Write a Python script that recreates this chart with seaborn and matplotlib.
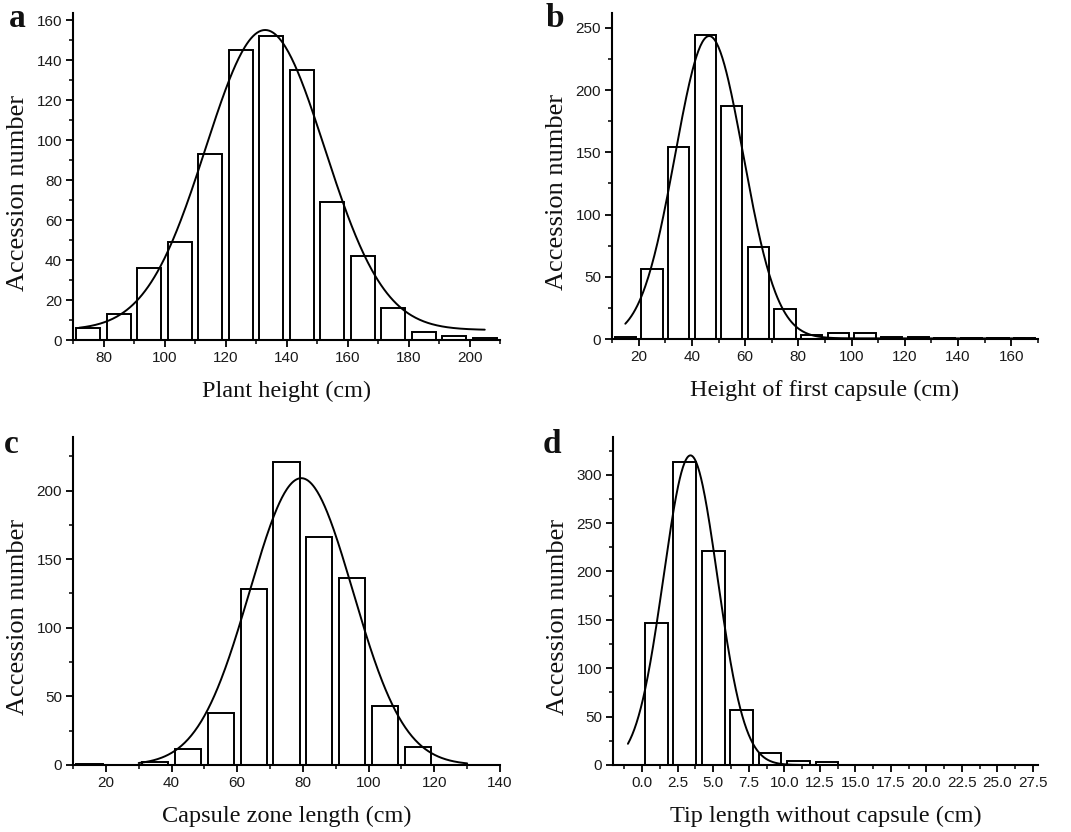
import numpy as np
import pandas as pd
import matplotlib
matplotlib.use("Agg")
import matplotlib.pyplot as plt
from matplotlib.ticker import MultipleLocator
import seaborn as sns

sns.set_theme(style="ticks")
plt.rcParams["font.family"] = ["Liberation Sans", "DejaVu Sans"]

# ---------------- data ----------------
# Panel a: plant height (bins of 10 cm)
a_edges = [70, 80, 90, 100, 110, 120, 130, 140, 150, 160, 170, 180, 190, 200, 210]
a_counts = [6, 13, 36, 49, 93, 145, 152, 135, 69, 42, 16, 4, 2, 1]
a_fit = dict(y0=5, H=150, xc=133, s=19.5, x0=72, x1=205)

# Panel b: height of first capsule
b_edges = [10, 20, 30, 40, 50, 60, 70, 80, 90, 100, 110, 120, 130, 140, 150, 160, 170]
b_counts = [2, 56, 154, 244, 187, 74, 24, 3, 5, 5, 2, 2, 1, 1, 1, 1]
b_fit = dict(y0=0.5, H=243, xc=46.5, s=12.8, x0=15, x1=165)

# Panel c: capsule zone length
c_edges = [10, 20, 30, 40, 50, 60, 70, 80, 90, 100, 110, 120]
c_counts = [1, 0, 2, 12, 38, 128, 221, 166, 136, 43, 13]
c_fit = dict(y0=0, H=209, xc=79.5, s=15.7, x0=30, x1=130)

# Panel d: tip length without capsule (bins of 2 cm)
d_edges = [0, 2, 4, 6, 8, 10, 12, 14, 16, 18, 20, 22, 24, 26, 28]
d_counts = [147, 313, 221, 57, 12, 4, 3, 0, 0, 0, 0, 0, 0, 0]
d_fit = dict(y0=0, H=320, xc=3.4, s=1.9, x0=-1.0, x1=14)

panels = [
    dict(letter="a", edges=a_edges, counts=a_counts, fit=a_fit,
         xlabel="Plant height (cm)", xlim=(70, 210), xmin=10,
         xticks=np.arange(80, 201, 20), ylim=(0, 163.5), ymaj=20, ymin=10,
         rect=(73, 13, 500, 340), fmt="{:.0f}"),
    dict(letter="b", edges=b_edges, counts=b_counts, fit=b_fit,
         xlabel="Height of first capsule (cm)", xlim=(10, 170), xmin=10,
         xticks=np.arange(20, 161, 20), ylim=(0, 262), ymaj=50, ymin=25,
         rect=(612, 13, 1038, 339), fmt="{:.0f}"),
    dict(letter="c", edges=c_edges, counts=c_counts, fit=c_fit,
         xlabel="Capsule zone length (cm)", xlim=(10, 140), xmin=10,
         xticks=np.arange(20, 141, 20), ylim=(0, 239), ymaj=50, ymin=25,
         rect=(73, 437, 500, 765), fmt="{:.0f}"),
    dict(letter="d", edges=d_edges, counts=d_counts, fit=d_fit,
         xlabel="Tip length without capsule (cm)", xlim=(-2.05, 27.85), xmin=1.25,
         xticks=np.arange(0, 27.6, 2.5), ylim=(0, 339), ymaj=50, ymin=25,
         rect=(613, 437, 1038, 765), fmt="{:.1f}"),
]
letter_pos = {"a": (9, 27), "b": (546, 27), "c": (4, 453), "d": (543, 453)}

W, H = 1071, 832
fig = plt.figure(figsize=(W / 100, H / 100), dpi=100)
fig.patch.set_facecolor("white")

serif = ["Liberation Serif", "DejaVu Serif"]

for p in panels:
    l, t, r, b = p["rect"]
    ax = fig.add_axes([l / W, 1 - b / H, (r - l) / W, (b - t) / H])
    edges = np.array(p["edges"], dtype=float)
    centers = (edges[:-1] + edges[1:]) / 2
    df = pd.DataFrame({"x": centers, "n": np.array(p["counts"], dtype=float)})
    sns.barplot(data=df, x="x", y="n", native_scale=True, width=0.8,
                color="white", edgecolor="black", linewidth=1.4,
                saturation=1, errorbar=None, ax=ax)
    f = p["fit"]
    xs = np.linspace(f["x0"], f["x1"], 400)
    ys = f["y0"] + f["H"] * np.exp(-(xs - f["xc"]) ** 2 / (2 * f["s"] ** 2))
    sns.lineplot(x=xs, y=ys, color="black", linewidth=1.4, ax=ax)

    ax.set_xlim(*p["xlim"])
    ax.set_xticks(p["xticks"])
    ax.set_xticklabels([p["fmt"].format(v) for v in p["xticks"]])
    ax.xaxis.set_minor_locator(MultipleLocator(p["xmin"]))
    ax.yaxis.set_major_locator(MultipleLocator(p["ymaj"]))
    ax.yaxis.set_minor_locator(MultipleLocator(p["ymin"]))
    ax.set_ylim(*p["ylim"])
    for s in ["top", "right"]:
        ax.spines[s].set_visible(False)
    for s in ["left", "bottom"]:
        ax.spines[s].set_linewidth(1.5)
        ax.spines[s].set_color("black")
    ax.tick_params(which="major", direction="out", length=5, width=1.3,
                   labelsize=11, colors="black", labelcolor="#1a1a1a", pad=3)
    ax.tick_params(which="minor", direction="out", length=3, width=1.1, colors="black")
    ax.set_xlabel(p["xlabel"], fontsize=17.5, family=serif, color="#111111")
    ax.set_ylabel("Accession number", fontsize=19, family=serif, color="#111111")
    ax.xaxis.set_label_coords(0.5, -0.125)
    ax.yaxis.set_label_coords(-0.104, 0.45)
    ax.set_facecolor("white")
    lx, ly = letter_pos[p["letter"]]
    fig.text(lx / W, 1 - ly / H, p["letter"], fontsize=24, family=serif,
             fontweight="bold", va="baseline", ha="left", color="#111111")

fig.savefig("out.png", dpi=100, facecolor="white")
